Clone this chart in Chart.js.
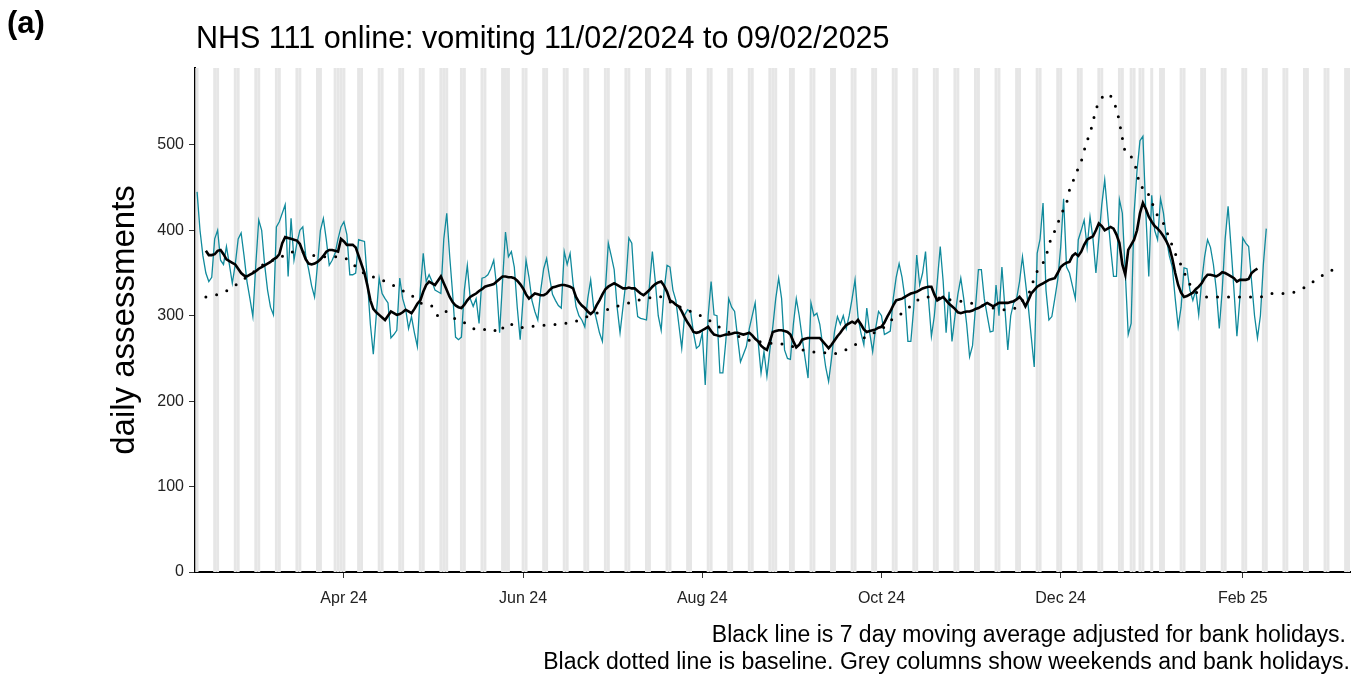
<!DOCTYPE html>
<html>
<head>
<meta charset="utf-8">
<script src="https://cdn.jsdelivr.net/npm/chart.js@4.4.1/dist/chart.umd.min.js"></script>
<style>
  html, body { margin: 0; padding: 0; background: #fff; }
  #wrap { width: 1362px; height: 675px; }
</style>
</head>
<body>
<div id="wrap"><canvas id="chart" width="1362" height="675"></canvas></div>
<script>
// Day 0 = 11/02/2024 (a Sunday). All x values are days since then.
const dailyStart = 0;
const dailyValues = [
  445, 400, 370, 350, 340, 345, 390,
  400, 365, 360, 381, 360, 338, 360,
  390, 397, 370, 340, 320, 299, 360,
  412, 400, 360, 330, 310, 301, 404,
  410, 420, 430, 346, 414, 365, 385,
  400, 404, 370, 354, 335, 322, 360,
  400, 414, 389, 359, 365, 373, 390,
  404, 410, 395, 348, 348, 350, 389,
  388, 387, 340, 290, 255, 300, 344,
  326, 320, 315, 274, 278, 283, 344,
  320, 308, 285, 299, 280, 264, 330,
  373, 340, 348, 340, 330, 328, 326,
  390, 420, 370, 326, 275, 272, 275,
  330, 359, 320, 311, 320, 291, 344,
  345, 348, 355, 365, 334, 280, 340,
  398, 369, 375, 357, 310, 272, 320,
  365, 345, 318, 305, 295, 330, 355,
  367, 345, 325, 318, 312, 309, 375,
  360, 373, 338, 311, 300, 295, 287,
  320, 342, 310, 295, 280, 270, 330,
  385, 370, 354, 310, 280, 310, 340,
  391, 385, 330, 299, 297, 296, 295,
  335, 375, 340, 300, 283, 330, 359,
  357, 330, 318, 290, 262, 301, 307,
  305, 280, 262, 265, 280, 219, 300,
  340, 301, 300, 233, 233, 270, 320,
  310, 305, 275, 246, 255, 264, 285,
  300, 315, 270, 233, 258, 229, 260,
  287, 320, 344, 320, 260, 250, 249,
  290, 320, 300, 274, 250, 227, 315,
  300, 303, 290, 265, 240, 223, 250,
  281, 299, 290, 300, 285, 300, 320,
  342, 299, 280, 266, 309, 280, 258,
  285, 305, 300, 278, 280, 282, 320,
  345, 361, 345, 320, 270, 270, 310,
  371, 336, 350, 375, 320, 276, 300,
  340, 381, 340, 280, 328, 270, 299,
  325, 344, 320, 290, 252, 265, 310,
  354, 354, 320, 300, 281, 282, 336,
  300, 357, 310, 260, 300, 315, 320,
  340, 369, 340, 310, 275, 240, 373,
  390, 432, 330, 295, 299, 320, 342,
  380, 437, 357, 350, 335, 320, 389,
  400, 412, 380, 416, 390, 350, 390,
  430, 459, 420, 380, 346, 346, 436,
  420, 350, 278, 291, 420, 470, 505,
  510, 420, 346, 441, 400, 389, 437,
  420, 390, 370, 357, 320, 287, 310,
  356, 355, 330, 318, 330, 301, 340,
  369, 389, 380, 360, 330, 285, 330,
  390, 428, 380, 330, 276, 320, 391,
  385, 381, 340, 300, 274, 300, 360,
  402
];

// 7 day moving average, starts on day 3
const avgStart = 3;
const avgValues = [
  376, 371, 371, 372, 376, 377, 372,
  366, 364, 362, 360, 355, 350, 347,
  346, 348, 350, 352, 355, 357, 359,
  361, 363, 366, 368, 372, 385, 392,
  391, 390, 389, 388, 384, 375, 366,
  361, 360, 361, 363, 366, 370, 375,
  377, 377, 376, 375, 390, 387, 383,
  383, 383, 380, 370, 360, 350, 335,
  318, 308, 304, 301, 298, 295, 300,
  305, 303, 301, 302, 304, 307, 305,
  303, 308, 314, 318, 328, 336, 340,
  338, 336, 341, 346, 338, 330, 322,
  316, 312, 310, 309, 313, 318, 322,
  324, 326, 329, 331, 334, 335, 336,
  337, 340, 343, 346, 346, 345, 345,
  344, 341, 337, 332, 325, 320, 323,
  326, 325, 324, 324, 326, 330, 333,
  334, 335, 336, 336, 335, 334, 332,
  322, 316, 312, 309, 305, 302, 305,
  312, 318, 325, 331, 334, 336, 338,
  336, 334, 332, 332, 333, 332, 332,
  329, 326, 324, 327, 330, 334, 337,
  339, 340, 335, 328, 318, 316, 313,
  311, 305, 298, 292, 287, 281, 280,
  281, 283, 285, 287, 282, 278, 277,
  276, 277, 278, 278, 279, 280, 280,
  279, 278, 279, 280, 277, 273, 270,
  265, 262, 260, 270, 281, 282, 283,
  283, 282, 281, 278, 270, 263, 266,
  272, 273, 274, 274, 274, 274, 274,
  270, 266, 262, 266, 271, 276, 280,
  285, 289, 291, 293, 291, 295, 290,
  284, 281, 282, 283, 284, 286, 287,
  292, 299, 305, 312, 318, 319, 320,
  322, 324, 326, 327, 328, 330, 332,
  333, 334, 334, 325, 318, 320, 322,
  318, 314, 311, 308, 304, 303, 304,
  305, 305, 306, 308, 309, 311, 313,
  315, 313, 311, 313, 315, 315, 315,
  315, 316, 317, 319, 322, 318, 311,
  318, 326, 330, 334, 336, 338, 340,
  342, 343, 344, 350, 357, 360, 362,
  363, 370, 373, 370, 375, 383, 389,
  391, 393, 400, 408, 405, 400, 402,
  404, 402, 395, 385, 360, 348, 377,
  383, 389, 400, 420, 432, 425, 416,
  410, 405, 402, 398, 393, 387, 380,
  367, 350, 336, 327, 322, 323, 325,
  327, 331, 334, 338, 344, 348, 348,
  347, 346, 348, 351, 350, 348, 346,
  344, 340, 342, 342, 342, 343, 350,
  353, 355
];

// baseline, read at these days
const baselineDays = [
  3, 7, 11, 14, 18, 21, 24, 28, 31, 35, 39, 43, 47, 50, 53, 55, 58, 62, 66, 69,
  73, 76, 80, 82, 84, 87, 90, 93, 96, 100, 103, 105, 109, 111, 115, 119, 123, 127, 131, 134,
  138, 142, 146, 150, 154, 157, 160, 164, 168, 172, 176, 179, 183, 187, 191, 195, 199, 202, 205, 209,
  213, 216, 220, 224, 227, 231, 234, 237, 241, 244, 248, 252, 256, 260, 263, 267, 271, 275, 279, 282,
  284, 285, 287, 289, 290, 291.5, 293, 294.5, 296, 297, 298.5, 300, 301.5, 302.5, 304, 305, 306, 308, 310, 312,
  313.5, 315, 316, 318, 319.5, 320.5, 321.5, 323, 324, 325.5, 327, 329, 330.5, 332, 333.5, 335.5, 337, 340, 344, 348,
  352, 355, 358, 362, 366, 370, 373, 377, 380, 384, 388
];
const baselineValues = [
  322, 325, 331, 338, 348, 356, 363, 367, 374, 375, 371, 369, 369, 368, 361, 354, 348, 343, 337, 331,
  324, 315, 311, 300, 306, 298, 294, 287, 283, 285, 280, 290, 289, 286, 288, 289, 290, 292, 296, 301,
  305, 310, 314, 318, 321, 323, 318, 311, 305, 299, 291, 284, 278, 272, 270, 268, 267, 265, 261, 258,
  257, 255, 259, 266, 274, 281, 287, 297, 305, 315, 322, 321, 319, 317, 315, 312, 309, 307, 310, 322,
  332, 345, 357, 369, 383, 395, 408, 421, 432, 447, 460, 473, 486, 500, 514, 527, 541, 555, 560, 551,
  535, 508, 492, 486, 474, 460, 450, 450, 441, 429, 417, 408, 395, 382, 369, 356, 343, 328, 322, 322,
  322, 322, 322, 322, 326, 326, 327, 333, 340, 349, 356
];

// England bank holidays in range (days since 11/02/2024)
const bankHolidays = [47, 50, 85, 106, 197, 318, 319, 325];

const tickDays = [50, 111, 172, 233, 294, 356];
const tickLabels = ['Apr 24', 'Jun 24', 'Aug 24', 'Oct 24', 'Dec 24', 'Feb 25'];
const yTicks = [0, 100, 200, 300, 400, 500];

const panelLabel = '(a)';
const titleText = 'NHS 111 online: vomiting 11/02/2024 to 09/02/2025';
const yTitle = 'daily assessments';
const captionLines = [
  'Black line is 7 day moving average adjusted for bank holidays.',
  'Black dotted line is baseline. Grey columns show weekends and bank holidays.'
];

const FONT = '"Liberation Sans", Arial, sans-serif';
const X_MIN = -0.7, X_MAX = 392.5;

// grey columns: weekends (day%7 is 6 or 0) plus bank holidays
const greyDays = [];
for (let d = Math.floor(X_MIN); d <= Math.ceil(X_MAX); d++) {
  const w = ((d % 7) + 7) % 7;
  if (w === 6 || w === 0 || bankHolidays.includes(d)) greyDays.push(d);
}

const greyColumns = {
  id: 'greyColumns',
  beforeDatasetsDraw(chart) {
    const { ctx, chartArea, scales } = chart;
    ctx.save();
    ctx.beginPath();
    ctx.rect(chartArea.left, chartArea.top, chartArea.right - chartArea.left, chartArea.bottom - chartArea.top);
    ctx.clip();
    ctx.fillStyle = '#e6e6e6';
    greyDays.forEach(d => {
      const x0 = scales.x.getPixelForValue(d - 0.5);
      const x1 = scales.x.getPixelForValue(d + 0.5);
      ctx.fillRect(x0, chartArea.top, x1 - x0, chartArea.bottom - chartArea.top);
    });
    ctx.restore();
  }
};

const texts = {
  id: 'texts',
  afterDraw(chart) {
    const { ctx, chartArea } = chart;
    ctx.save();
    ctx.fillStyle = '#000';
    ctx.textBaseline = 'alphabetic';

    ctx.font = 'bold 31px ' + FONT;
    ctx.textAlign = 'left';
    ctx.fillText(panelLabel, 7, 33);

    ctx.font = '30.5px ' + FONT;
    ctx.fillText(titleText, chartArea.left + 1, 48);

    ctx.font = '23px ' + FONT;
    ctx.textAlign = 'right';
    ctx.fillText(captionLines[0], chartArea.right - 4, 642);
    ctx.fillText(captionLines[1], chartArea.right, 669);

    ctx.translate(125, (chartArea.top + chartArea.bottom) / 2);
    ctx.rotate(-Math.PI / 2);
    ctx.textAlign = 'center';
    ctx.textBaseline = 'middle';
    ctx.font = '33px ' + FONT;
    ctx.fillText(yTitle, 0, 0);
    ctx.restore();
  }
};

const ctx = document.getElementById('chart').getContext('2d');
new Chart(ctx, {
  type: 'line',
  data: {
    datasets: [
      {
        label: 'moving average',
        data: avgValues.map((v, i) => ({ x: avgStart + i, y: v })),
        borderColor: '#000',
        borderWidth: 2.6,
        pointRadius: 0,
        tension: 0,
        order: 0
      },
      {
        label: 'baseline',
        data: baselineValues.map((v, i) => ({ x: baselineDays[i], y: v })),
        borderColor: '#000',
        borderWidth: 3,
        borderDash: [0, 11],
        borderCapStyle: 'round',
        pointRadius: 0,
        cubicInterpolationMode: 'monotone',
        order: 1
      },
      {
        label: 'daily',
        data: dailyValues.map((v, i) => ({ x: dailyStart + i, y: v })),
        borderColor: '#108a9c',
        borderWidth: 1.3,
        pointRadius: 0,
        tension: 0,
        order: 2
      }
    ]
  },
  options: {
    responsive: false,
    animation: false,
    devicePixelRatio: 1,
    layout: { padding: { top: 68, right: 12, left: 0, bottom: 0 } },
    plugins: {
      legend: { display: false },
      tooltip: { enabled: false },
      title: { display: false }
    },
    scales: {
      x: {
        type: 'linear',
        min: X_MIN,
        max: X_MAX,
        afterBuildTicks: s => { s.ticks = tickDays.map(v => ({ value: v })); },
        afterFit: s => { s.height = 103; },
        ticks: {
          autoSkip: false,
          maxRotation: 0,
          padding: 11,
          color: '#222',
          font: { family: FONT, size: 16 },
          callback: v => tickLabels[tickDays.indexOf(v)]
        },
        grid: { drawOnChartArea: false, drawTicks: true, tickLength: 6, color: '#333' },
        border: { display: true, color: '#000', width: 2 }
      },
      y: {
        min: 0,
        max: 590,
        afterBuildTicks: s => { s.ticks = yTicks.map(v => ({ value: v })); },
        afterFit: s => { s.width = 195; },
        ticks: {
          padding: 5,
          color: '#222',
          font: { family: FONT, size: 16 }
        },
        grid: { drawOnChartArea: false, drawTicks: true, tickLength: 6, color: '#333' },
        border: { display: true, color: '#000', width: 2 }
      }
    }
  },
  plugins: [greyColumns, texts]
});
</script>
</body>
</html>
